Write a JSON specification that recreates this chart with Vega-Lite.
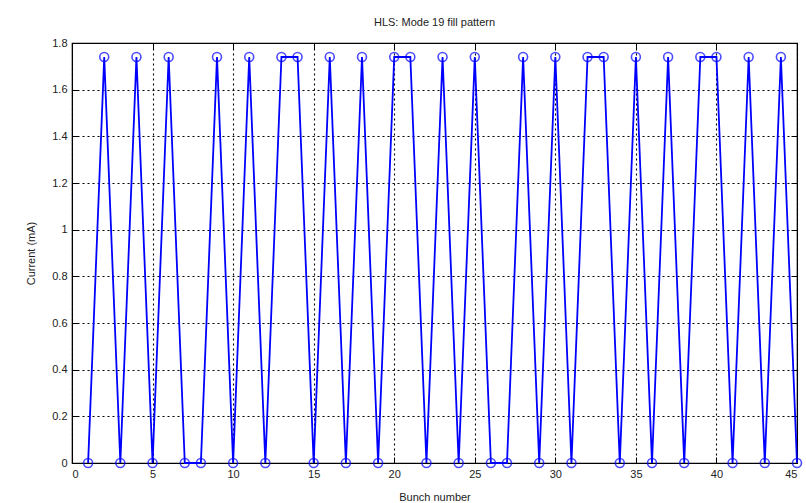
{
  "$schema": "https://vega.github.io/schema/vega-lite/v6.json",
  "width": 725,
  "height": 420,
  "autosize": {"type": "none"},
  "padding": {"left": 72, "top": 43, "right": 9, "bottom": 40},
  "background": "white",
  "title": {"text": "HLS: Mode 19 fill pattern", "font": "Liberation Sans", "fontSize": 11, "fontWeight": "normal", "color": "#222", "offset": 9},
  "config": {
    "view": {"stroke": "black", "strokeWidth": 1.2},
    "axis": {"labelFont": "Liberation Sans", "titleFont": "Liberation Sans", "labelFontSize": 11, "titleFontSize": 11, "titleFontWeight": "normal", "labelColor": "#222", "titleColor": "#222", "domainColor": "black", "tickColor": "black", "tickSize": -6, "labelPadding": 11, "gridColor": "black", "gridDash": [2, 3], "gridWidth": 1.1, "gridOpacity": 1}
  },
  "data": {"values": [
    {"bunch": 1, "current": 0}, {"bunch": 2, "current": 1.74}, {"bunch": 3, "current": 0},
    {"bunch": 4, "current": 1.74}, {"bunch": 5, "current": 0}, {"bunch": 6, "current": 1.74},
    {"bunch": 7, "current": 0}, {"bunch": 8, "current": 0}, {"bunch": 9, "current": 1.74},
    {"bunch": 10, "current": 0}, {"bunch": 11, "current": 1.74}, {"bunch": 12, "current": 0},
    {"bunch": 13, "current": 1.74}, {"bunch": 14, "current": 1.74}, {"bunch": 15, "current": 0},
    {"bunch": 16, "current": 1.74}, {"bunch": 17, "current": 0}, {"bunch": 18, "current": 1.74},
    {"bunch": 19, "current": 0}, {"bunch": 20, "current": 1.74}, {"bunch": 21, "current": 1.74},
    {"bunch": 22, "current": 0}, {"bunch": 23, "current": 1.74}, {"bunch": 24, "current": 0},
    {"bunch": 25, "current": 1.74}, {"bunch": 26, "current": 0}, {"bunch": 27, "current": 0},
    {"bunch": 28, "current": 1.74}, {"bunch": 29, "current": 0}, {"bunch": 30, "current": 1.74},
    {"bunch": 31, "current": 0}, {"bunch": 32, "current": 1.74}, {"bunch": 33, "current": 1.74},
    {"bunch": 34, "current": 0}, {"bunch": 35, "current": 1.74}, {"bunch": 36, "current": 0},
    {"bunch": 37, "current": 1.74}, {"bunch": 38, "current": 0}, {"bunch": 39, "current": 1.74},
    {"bunch": 40, "current": 1.74}, {"bunch": 41, "current": 0}, {"bunch": 42, "current": 1.74},
    {"bunch": 43, "current": 0}, {"bunch": 44, "current": 1.74}, {"bunch": 45, "current": 0}
  ]},
  "layer": [
    {
      "mark": {"type": "line", "color": "#0000ff", "strokeWidth": 1.8, "clip": false},
      "encoding": {
        "x": {"field": "bunch", "type": "quantitative", "scale": {"domain": [0, 45], "nice": false}, "axis": {"title": "Bunch number", "format": "~g", "values": [0,5,10,15,20,25,30,35,40,45], "titleY": 28, "grid": true}},
        "y": {"field": "current", "type": "quantitative", "scale": {"domain": [0, 1.8], "nice": false}, "axis": {"title": "Current (mA)", "format": "~g", "values": [0,0.2,0.4,0.6,0.8,1,1.2,1.4,1.6,1.8], "titleX": -36, "grid": true}}
      }
    },
    {
      "mark": {"type": "point", "shape": "circle", "filled": false, "color": "#0000ff", "size": 80, "strokeWidth": 1.6, "clip": false},
      "encoding": {
        "x": {"field": "bunch", "type": "quantitative", "axis": {"orient": "top", "labels": false, "title": null, "grid": false, "values": [0,5,10,15,20,25,30,35,40,45]}},
        "y": {"field": "current", "type": "quantitative", "axis": {"orient": "right", "labels": false, "title": null, "grid": false, "values": [0,0.2,0.4,0.6,0.8,1,1.2,1.4,1.6,1.8]}}
      }
    }
  ],
  "resolve": {"axis": {"x": "independent", "y": "independent"}}
}
